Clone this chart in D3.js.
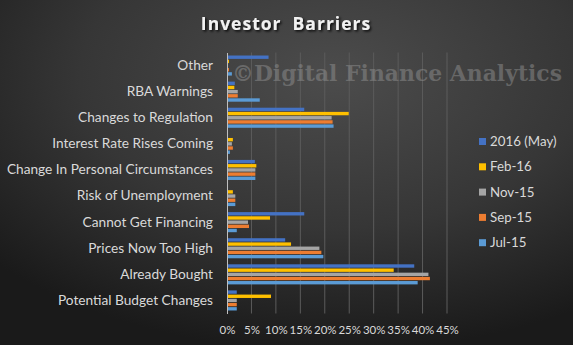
<!DOCTYPE html>
<html>
<head>
<meta charset="utf-8">
<script src="https://cdn.jsdelivr.net/npm/d3@7"></script>
<style>
  html, body { margin: 0; padding: 0; background: #2a2a2a; }
  svg { display: block; }
</style>
</head>
<body>
<svg id="chart" width="573" height="345"></svg>
<script>
// Categories, listed top to bottom as they appear on the chart
const categories = [
  "Other",
  "RBA Warnings",
  "Changes to Regulation",
  "Interest Rate Rises Coming",
  "Change In Personal Circumstances",
  "Risk of Unemployment",
  "Cannot Get Financing",
  "Prices Now Too High",
  "Already Bought",
  "Potential Budget Changes"
];

// Survey waves, drawn top to bottom within each category
const seriesNames = ["2016 (May)", "Feb-16", "Nov-15", "Sep-15", "Jul-15"];
const seriesColors = ["#4472C4", "#FFC000", "#A5A5A5", "#ED7D31", "#5B9BD5"];

// Share of investors citing each barrier (%), one array per wave, in category order
const may16 = [8.5, 1.6, 15.8, 0.0, 5.7, 0.0, 15.8, 11.9, 38.3, 2.0];
const feb16 = [0.4, 1.5, 24.9, 1.2, 6.0, 1.2, 8.8, 13.1, 34.1, 9.0];
const nov15 = [0.2, 2.2, 21.4, 1.0, 5.8, 1.7, 4.3, 18.9, 41.2, 2.0];
const sep15 = [0.4, 2.2, 21.6, 1.2, 5.8, 1.7, 4.5, 19.3, 41.5, 2.0];
const jul15 = [1.0, 6.7, 21.8, 0.6, 5.8, 1.7, 2.0, 19.7, 39.0, 2.0];
const seriesValues = [may16, feb16, nov15, sep15, jul15];

const xTicks = [0, 5, 10, 15, 20, 25, 30, 35, 40, 45];

const svg = d3.select("#chart");
const W = 573, H = 345;

// Dark radial backdrop
const defs = svg.append("defs");
const bg = defs.append("radialGradient")
  .attr("id", "bg").attr("cx", "58%").attr("cy", "22%").attr("r", "80%");
bg.append("stop").attr("offset", "0%").attr("stop-color", "#4c4c4c");
bg.append("stop").attr("offset", "55%").attr("stop-color", "#363636");
bg.append("stop").attr("offset", "100%").attr("stop-color", "#1a1a1a");
svg.append("rect").attr("width", W).attr("height", H).attr("fill", "url(#bg)");

const shadow = defs.append("filter").attr("id", "shadow")
  .attr("x", "-10%").attr("y", "-30%").attr("width", "130%").attr("height", "180%");
shadow.append("feDropShadow").attr("dx", 1.5).attr("dy", 1.5)
  .attr("stdDeviation", 1.2).attr("flood-color", "#000").attr("flood-opacity", 0.85);

// Scales
const x = d3.scaleLinear().domain([0, 45]).range([227, 447]);
const y = d3.scaleBand().domain(categories).range([52.5, 313.5])
  .paddingInner(0.2).paddingOuter(0.1);
const ySub = d3.scaleBand().domain(seriesNames).range([0, y.bandwidth()]).padding(0);

// Vertical gridlines
svg.append("g")
  .selectAll("line")
  .data(xTicks.filter(t => t > 0))
  .join("line")
  .attr("x1", d => x(d)).attr("x2", d => x(d))
  .attr("y1", 52.5).attr("y2", 313.5)
  .attr("stroke", "#5c5c5c").attr("stroke-width", 1);

// Bars
const rows = [];
categories.forEach((c, i) => {
  seriesNames.forEach((s, j) => {
    rows.push({ cat: c, series: s, value: seriesValues[j][i], color: seriesColors[j] });
  });
});
svg.append("g")
  .selectAll("rect")
  .data(rows)
  .join("rect")
  .attr("x", x(0))
  .attr("y", d => y(d.cat) + ySub(d.series) + 0.4)
  .attr("width", d => Math.max(0, x(d.value) - x(0)))
  .attr("height", ySub.bandwidth() - 0.8)
  .attr("fill", d => d.color);

// Category axis
const yAxis = d3.axisLeft(y).tickSize(0).tickPadding(14);
const gy = svg.append("g").attr("transform", `translate(${x(0)},0)`).call(yAxis);
gy.select(".domain").attr("stroke", "#bfbfbf").attr("stroke-width", 1);
gy.selectAll("text")
  .attr("fill", "#d9d9d9")
  .style("font-family", "Lato, 'Open Sans', sans-serif")
  .style("font-size", "13.7px");

// Value axis
const xAxis = d3.axisBottom(x).tickValues(xTicks).tickFormat(d => d + "%")
  .tickSize(0).tickPadding(10);
const gx = svg.append("g").attr("transform", "translate(0,316)").call(xAxis);
gx.select(".domain").remove();
gx.selectAll("text")
  .attr("fill", "#d9d9d9")
  .style("font-family", "Lato, 'Open Sans', sans-serif")
  .style("font-size", "11.5px");

// Title
svg.append("text")
  .attr("x", 286).attr("y", 30)
  .attr("text-anchor", "middle")
  .attr("fill", "#f2f2f2")
  .attr("filter", "url(#shadow)")
  .style("font-family", "'Open Sans', Lato, sans-serif")
  .style("font-weight", "bold")
  .style("font-size", "17.5px")
  .style("letter-spacing", "1px")
  .style("white-space", "pre")
  .text("Investor  Barriers");

// Legend
const legend = svg.append("g");
seriesNames.forEach((s, j) => {
  const cy = 141.5 + j * 25.3;
  legend.append("rect")
    .attr("x", 479).attr("y", cy - 3.5).attr("width", 7).attr("height", 7)
    .attr("fill", seriesColors[j]);
  legend.append("text")
    .attr("x", 490).attr("y", cy).attr("dy", "0.35em")
    .attr("fill", "#d9d9d9")
    .style("font-family", "Lato, 'Open Sans', sans-serif")
    .style("font-size", "13.3px")
    .text(s);
});

// Copyright watermark
svg.append("text")
  .attr("x", 232).attr("y", 81)
  .attr("textLength", 330).attr("lengthAdjust", "spacingAndGlyphs")
  .attr("fill", "#8f8f8f").attr("fill-opacity", 0.5)
  .style("font-family", "'DejaVu Serif', serif")
  .style("font-weight", "bold")
  .style("font-size", "22px")
  .text("©Digital Finance Analytics");
</script>
</body>
</html>
